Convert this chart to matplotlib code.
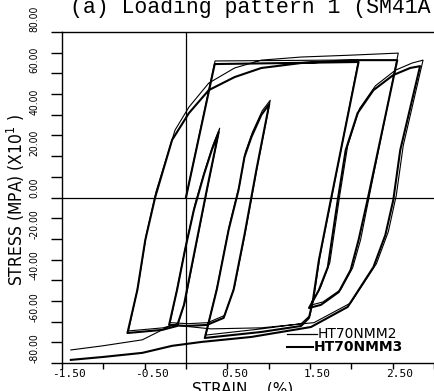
import matplotlib
matplotlib.use("Agg")
from matplotlib import pyplot as plt
from matplotlib.transforms import ScaledTranslation
import numpy as np

#-----------------------Data-----------------------#
# strain in %, stress in MPa x10

# HT70NMM3 (thick line)
nmm3_strain = [0.000, 0.348, 2.089,
               1.753, 1.609, 1.537, 1.489, 1.393, 0.912, 0.228,
               0.372, 0.516, 0.636, 0.708, 0.792, 0.912, 1.008,
               0.852, 0.708, 0.576, 0.456, 0.252, 0.012, -0.204,
               -0.108, -0.012, 0.096, 0.216, 0.312, 0.396,
               0.252, 0.096, -0.024, -0.108, -0.288, -0.708,
               -0.588, -0.492, -0.372, -0.168, 0.036, 0.276, 0.588, 0.912, 1.393, 1.993, 2.557,
               2.197, 2.089, 1.993, 1.849, 1.633, 1.489,
               1.609, 1.717, 1.837, 1.933, 2.077, 2.269, 2.509, 2.713, 2.833,
               2.593, 2.509, 2.413, 2.269, 1.957, 1.513, 0.792, 0.192, -0.168, -0.528, -1.008, -1.393]
nmm3_stress = [0.0, 64.5, 65.5,
               -1.2, -30.2, -49.5, -58.2, -62.1, -65.0, -67.9,
               -44.7, -15.7, 3.6, 19.6, 29.2, 39.9, 45.2,
               13.3, -18.1, -44.7, -58.2, -61.6, -62.1, -61.6,
               -44.7, -25.4, -6.0, 10.9, 22.9, 31.6,
               3.6, -27.8, -51.9, -62.1, -64.0, -65.5,
               -44.7, -20.5, 0.2, 27.8, 40.8, 51.9, 58.2, 62.6, 65.0, 66.4, 66.4,
               -1.2, -20.5, -35.0, -45.7, -51.9, -53.4,
               -44.7, -33.6, -1.2, 22.9, 40.8, 51.9, 59.2, 62.6, 63.5,
               22.9, -1.2, -18.1, -33.6, -52.9, -62.6, -67.4, -69.8, -71.7, -75.1, -77.1, -78.5]

# HT70NMM2 (thin line)
nmm2_strain = [0.000, 0.352, 2.089,
               1.765, 1.621, 1.549, 1.501, 1.393, 0.912, 0.240,
               0.384, 0.528, 0.648, 0.720, 0.804, 0.924, 1.020,
               0.864, 0.720, 0.588, 0.468, 0.264, 0.024, -0.192,
               -0.096, 0.000, 0.108, 0.228, 0.324, 0.408,
               0.264, 0.108, -0.012, -0.096, -0.276, -0.696,
               -0.576, -0.480, -0.360, -0.132, 0.036, 0.276, 0.588, 0.912, 1.393, 1.993, 2.569,
               2.233, 2.113, 2.017, 1.873, 1.657, 1.513,
               1.633, 1.741, 1.861, 1.957, 2.101, 2.293, 2.533, 2.737, 2.869,
               2.629, 2.545, 2.449, 2.305, 1.993, 1.549, 0.912, 0.300, -0.168, -0.528, -1.008, -1.393]
nmm2_stress = [0.0, 66.0, 66.5,
               0.5, -28.5, -48.0, -57.0, -61.0, -63.5, -66.5,
               -42.0, -13.0, 6.0, 22.0, 31.5, 42.0, 47.0,
               15.0, -16.5, -43.0, -57.0, -60.5, -61.0, -60.5,
               -42.0, -23.0, -3.5, 13.0, 25.0, 33.5,
               5.5, -26.0, -50.5, -61.0, -63.0, -64.5,
               -42.0, -18.0, 3.0, 32.6, 43.7, 55.3, 62.6, 66.4, 67.9, 68.8, 69.8,
               3.6, -20.5, -34.0, -44.5, -50.5, -52.0,
               -43.0, -31.5, 1.0, 25.0, 43.0, 54.0, 61.5, 65.0, 66.4,
               25.0, 1.0, -16.5, -32.0, -51.0, -60.5, -63.0, -63.5, -61.6, -68.8, -71.7, -73.7]

yticks = [-80, -60, -40, -20, 0, 20, 40, 60, 80]
xticks = [-1.5, -0.5, 0.5, 1.5, 2.5]

#-----------------------Figure-----------------------#

fig = plt.figure(figsize=(4.34, 3.91), dpi=100)
ax = fig.add_axes([62/434, 28/391, 376/434, 331/391])

ax.plot(nmm2_strain, nmm2_stress, color='k', lw=0.8)
ax.plot(nmm3_strain, nmm3_stress, color='k', lw=1.5)

ax.axhline(0, color='k', lw=0.9)
ax.axvline(0, color='k', lw=0.9)

ax.set_xlim(-1.465, 3.05)
ax.set_ylim(-80, 80)
ax.spines['right'].set_visible(False)
for s in ['left', 'top', 'bottom']:
    ax.spines[s].set_linewidth(1.0)

ax.set_yticks(yticks)
ax.set_yticks(np.arange(-80, 81, 10), minor=True)
ax.set_yticklabels(['%.2f' % v for v in yticks], rotation=90, va='bottom',
                   family='DejaVu Sans', fontstretch='condensed', fontsize=7.5)
ax.set_xticks(xticks)
ax.set_xticks(np.arange(-1.5, 3.01, 0.5), minor=True)
ax.set_xticklabels(['%.2f' % v for v in xticks], family='DejaVu Sans Mono', fontsize=8)
ax.tick_params(axis='y', which='both', direction='out', length=8, width=1, pad=8)
ax.tick_params(axis='x', which='both', direction='out', length=4, width=1, pad=0.5)
# plotter put the x labels a bit right of their ticks
shift = ScaledTranslation(0.07, 0, fig.dpi_scale_trans)
for lab in ax.get_xticklabels():
    lab.set_transform(lab.get_transform() + shift)

fig.text(70/434, 1 - 13.5/391, "(a) Loading pattern 1 (SM41A)", family='Liberation Mono',
         fontsize=15.5, va='baseline', ha='left')
fig.text(16/434, 1 - 200/391, "STRESS (MPA) (X10$^{\\mathregular{1}}$ )", rotation=90,
         family='DejaVu Sans', fontstretch='condensed', fontsize=12.5, ha='center', va='center')
fig.text(243/434, -6/391, "STRAIN    (%)", family='DejaVu Sans', fontsize=11,
         ha='center', va='bottom')

# legend with leader lines
ax.plot([0.598, 0.678], [0.088, 0.088], color='k', lw=0.9, transform=ax.transAxes)
ax.text(0.681, 0.088, "HT70NMM2", transform=ax.transAxes, va='center', fontsize=10)
ax.plot([0.598, 0.667], [0.048, 0.048], color='k', lw=1.5, transform=ax.transAxes)
ax.text(0.670, 0.048, "HT70NMM3", transform=ax.transAxes, va='center', fontsize=10,
        fontweight='bold')

fig.savefig("out.png", dpi=100)
